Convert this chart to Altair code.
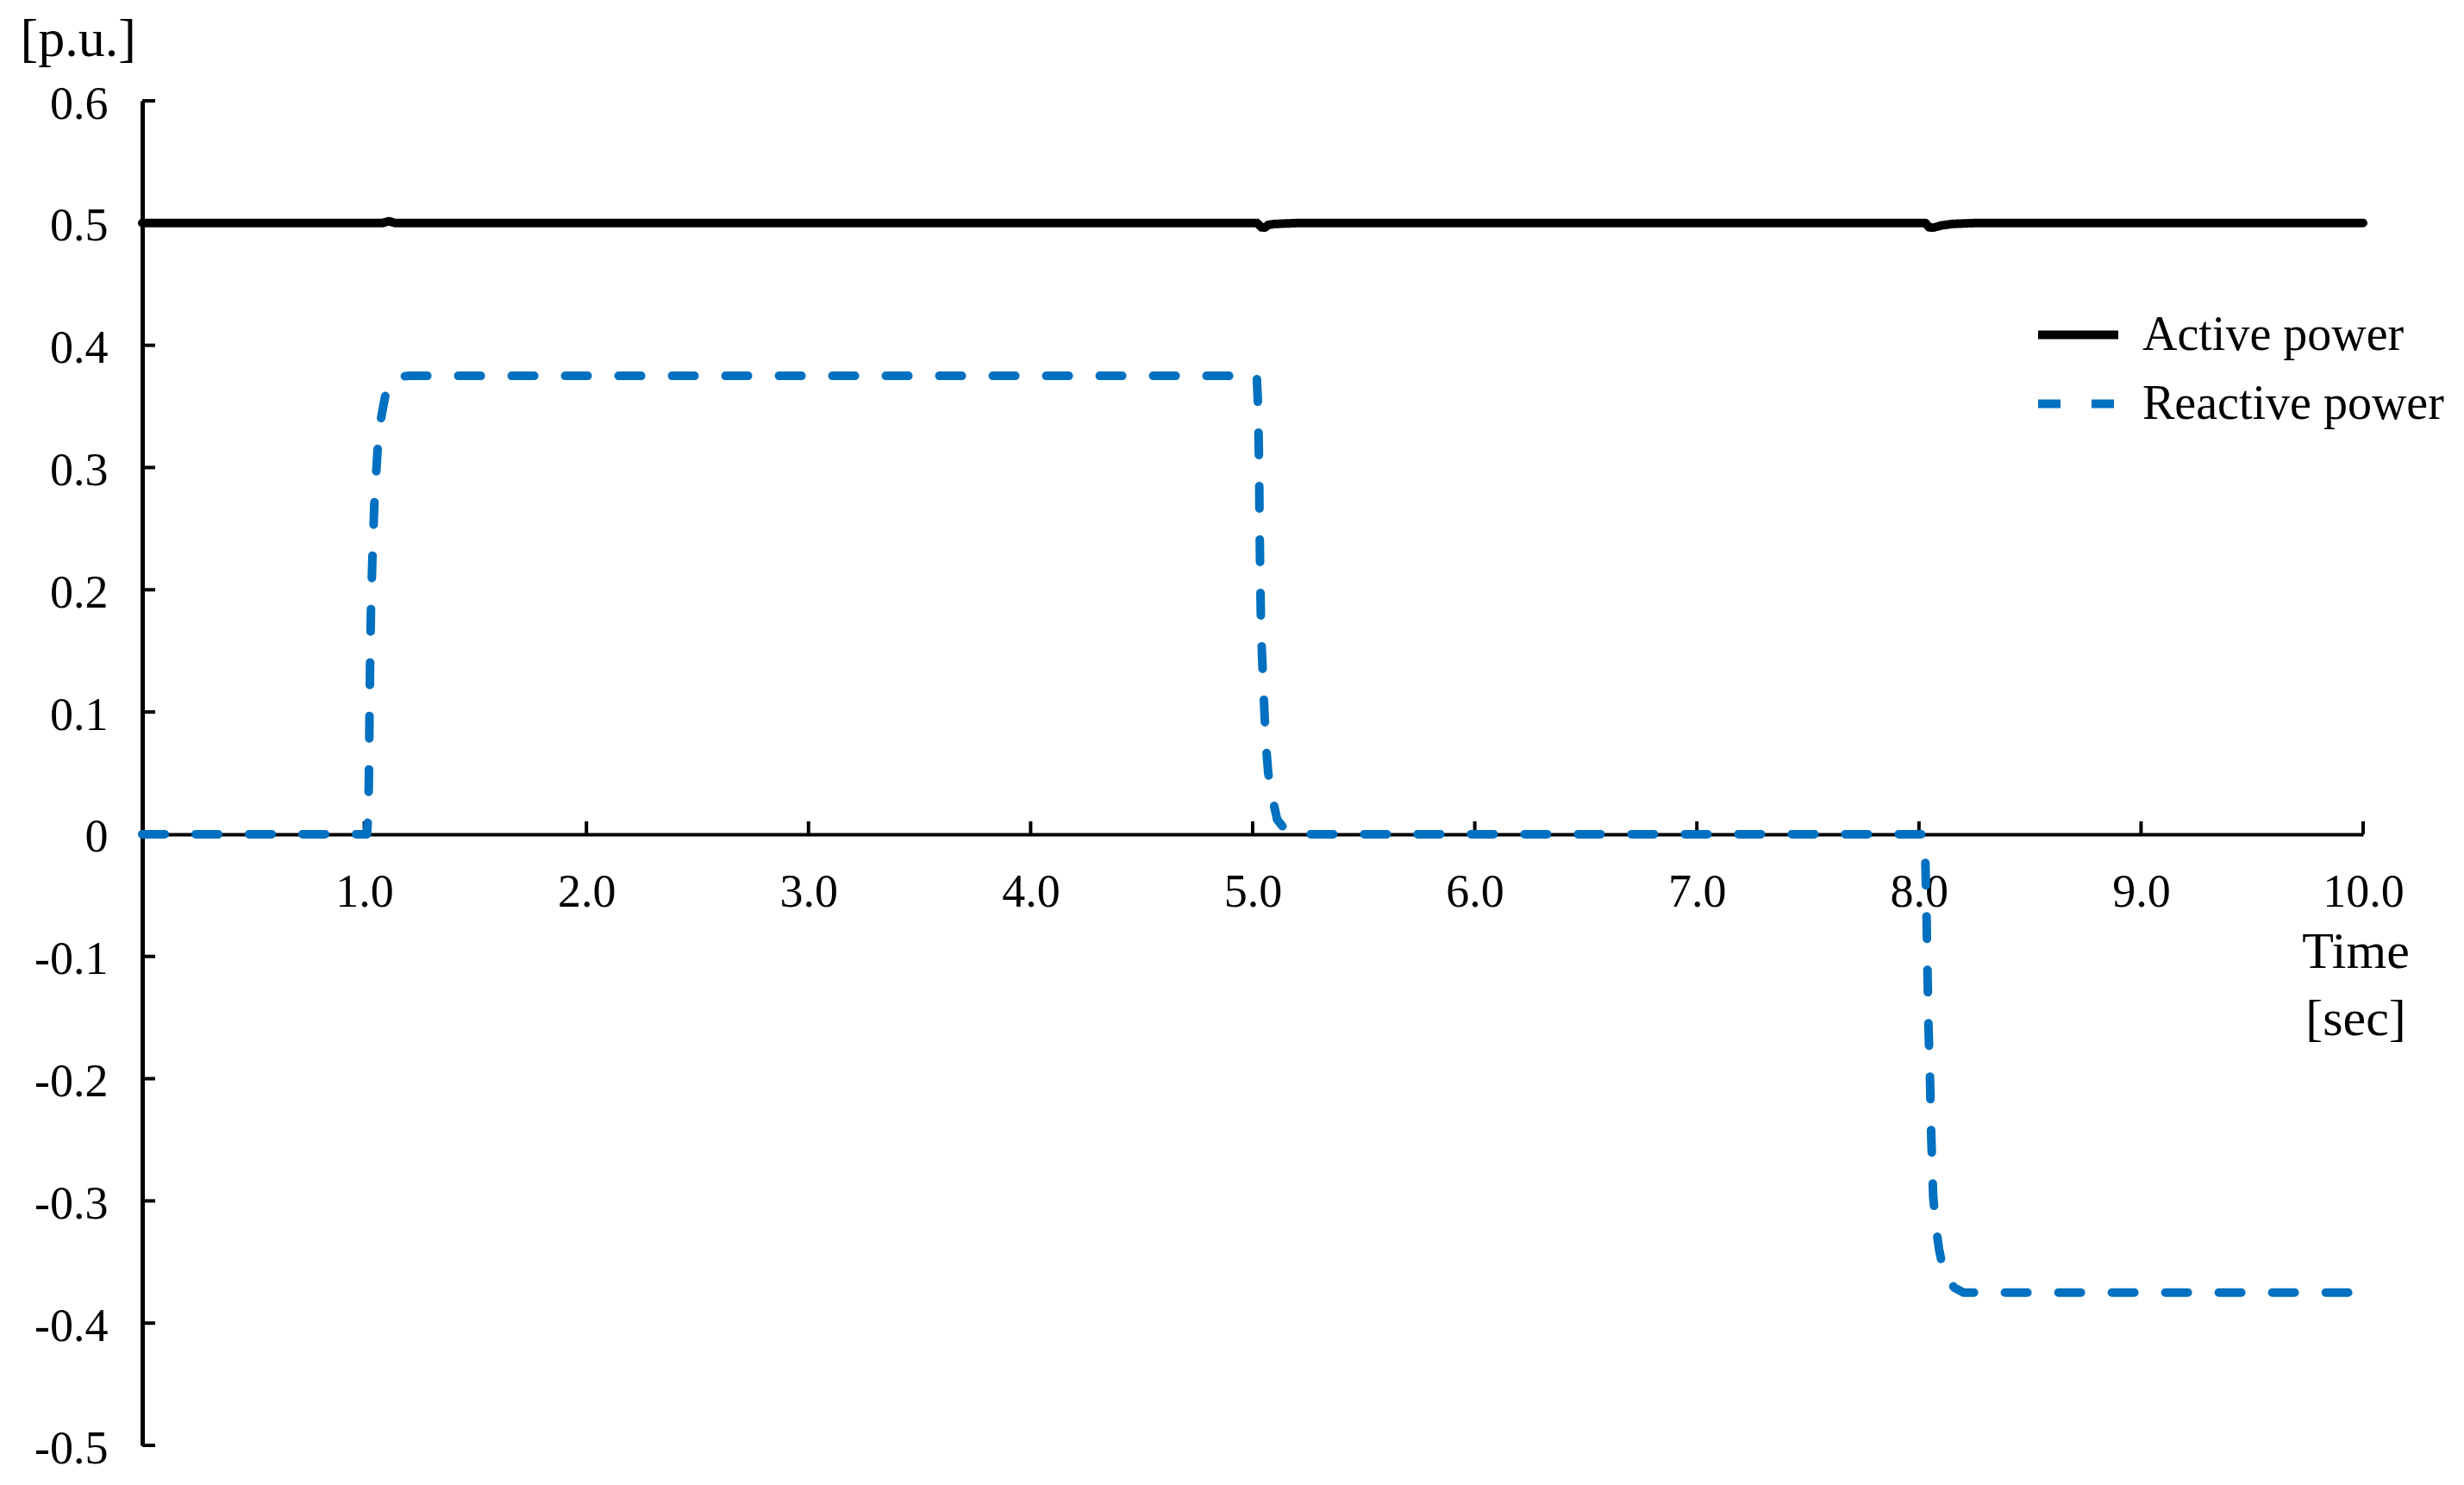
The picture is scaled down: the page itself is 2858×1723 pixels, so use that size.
import json
import altair as alt
import pandas as pd

# ---------------- data ----------------
SERIES = ["Active power", "Reactive power"]
COLORS = ["#000000", "#0070C0"]

T_ACTIVE = [0.0, 1.0, 1.08, 1.11, 1.14, 1.2, 5.0, 5.02, 5.04, 5.055, 5.07, 5.1, 5.2, 5.3,
            8.0, 8.03, 8.045, 8.065, 8.1, 8.15, 8.25, 10.0]
V_ACTIVE = [0.5, 0.5, 0.5, 0.5015, 0.5, 0.5, 0.5, 0.5, 0.4965, 0.4963, 0.4985, 0.4993, 0.5, 0.5,
            0.5, 0.5, 0.4965, 0.4963, 0.498, 0.4993, 0.5, 0.5]

T_REACTIVE = [0.0, 1.0, 1.012, 1.017, 1.0206, 1.0229, 1.0256, 1.0295, 1.0361, 1.045, 1.0594,
              1.075, 1.0944, 1.115, 1.146, 1.2,
              5.0, 5.018, 5.022, 5.025, 5.029, 5.031, 5.034, 5.038, 5.048, 5.059, 5.07, 5.085,
              5.11, 5.15, 5.2,
              8.0, 8.02, 8.026, 8.029, 8.034, 8.038, 8.043, 8.05, 8.055, 8.064, 8.077, 8.09,
              8.108, 8.125, 8.16, 8.2, 8.3, 10.0]
V_REACTIVE = [0.0, 0.0, 0.0, 0.015, 0.046, 0.092, 0.135, 0.181, 0.225, 0.27, 0.314,
              0.34, 0.359, 0.369, 0.374, 0.375,
              0.375, 0.375, 0.36, 0.343, 0.298, 0.254, 0.209, 0.165, 0.12, 0.075, 0.05, 0.033,
              0.012, 0.003, 0.0,
              0.0, 0.0, -0.01, -0.023, -0.065, -0.108, -0.158, -0.202, -0.245, -0.296, -0.322, -0.339,
              -0.355, -0.364, -0.371, -0.375, -0.375, -0.375]

X_TICKS = [1.0, 2.0, 3.0, 4.0, 5.0, 6.0, 7.0, 8.0, 9.0, 10.0]
X_TICK_LABELS = ["1.0", "2.0", "3.0", "4.0", "5.0", "6.0", "7.0", "8.0", "9.0", "10.0"]
Y_TICKS = [0.6, 0.5, 0.4, 0.3, 0.2, 0.1, 0.0, -0.1, -0.2, -0.3, -0.4, -0.5]
Y_TICK_LABELS = ["0.6", "0.5", "0.4", "0.3", "0.2", "0.1", "0", "-0.1", "-0.2", "-0.3", "-0.4", "-0.5"]

# ---------------- layout / style ----------------
FONT = "Liberation Serif"
PLOT_W, PLOT_H = 2576, 1560
X_DOMAIN = [0, 10]
Y_DOMAIN = [-0.5, 0.6]
TICK_PX = 15
px_per_x = PLOT_W / (X_DOMAIN[1] - X_DOMAIN[0])
px_per_y = PLOT_H / (Y_DOMAIN[1] - Y_DOMAIN[0])
X_AXIS_OFFSET = -(0 - Y_DOMAIN[0]) * px_per_y

df = pd.concat([
    pd.DataFrame({"t": T_ACTIVE, "v": V_ACTIVE, "series": SERIES[0]}),
    pd.DataFrame({"t": T_REACTIVE, "v": V_REACTIVE, "series": SERIES[1]}),
], ignore_index=True)

x_scale = alt.Scale(domain=X_DOMAIN, nice=False, zero=False)
y_scale = alt.Scale(domain=Y_DOMAIN, nice=False, zero=False)

x_axis = alt.Axis(
    values=X_TICKS,
    labelExpr=json.dumps(X_TICK_LABELS) + "[round(datum.value) - 1]",
    offset=X_AXIS_OFFSET,
    grid=False, ticks=False, tickSize=0,
    domainColor="black", domainWidth=4,
    labelFont=FONT, labelFontSize=54, labelColor="black",
    labelBaseline="alphabetic", labelPadding=84, labelFlush=False,
    title=["Time", "[sec]"], titleFont=FONT, titleFontSize=60, titleFontWeight="normal",
    titleColor="black", titleAngle=0, titleAlign="center", titleBaseline="alphabetic",
    titleX=2567, titleY=155, titleLineHeight=78,
)
y_axis = alt.Axis(
    values=Y_TICKS,
    labelExpr=json.dumps(Y_TICK_LABELS) + "[round((0.6 - datum.value) * 10)]",
    grid=False, ticks=False, tickSize=0,
    domainColor="black", domainWidth=5,
    labelFont=FONT, labelFontSize=54, labelColor="black",
    labelPadding=40, labelOffset=4, labelFlush=False,
    title="[p.u.]", titleFont=FONT, titleFontSize=62, titleFontWeight="normal",
    titleColor="black", titleAngle=0, titleAlign="left", titleBaseline="alphabetic",
    titleX=-142, titleY=-53,
)

legend = alt.Legend(
    title=None, orient="none", legendX=2194, legendY=220,
    symbolType="stroke", symbolSize=8649, symbolStrokeWidth=10,
    labelFont=FONT, labelFontSize=56, labelColor="black", labelOffset=23, labelLimit=0,
    rowPadding=-19, padding=0, offset=0,
)

xt = pd.DataFrame({"t": X_TICKS})
yt = pd.DataFrame({"v": Y_TICKS})

x_ticks = alt.Chart(xt).mark_rule(color="black", strokeWidth=4).encode(
    x=alt.X("t:Q", scale=x_scale, axis=x_axis),
    y=alt.Y(datum=0, scale=y_scale, axis=y_axis),
    y2=alt.Y2(datum=TICK_PX / px_per_y),
)
y_ticks = alt.Chart(yt).mark_rule(color="black", strokeWidth=4).encode(
    y=alt.Y("v:Q", scale=y_scale, axis=y_axis),
    x=alt.X(datum=0, scale=x_scale, axis=x_axis),
    x2=alt.X2(datum=TICK_PX / px_per_x),
)

lines = alt.Chart(df).mark_line(strokeWidth=10, strokeCap="round", strokeJoin="round").encode(
    x=alt.X("t:Q", scale=x_scale, axis=x_axis),
    y=alt.Y("v:Q", scale=y_scale, axis=y_axis),
    color=alt.Color("series:N", scale=alt.Scale(domain=SERIES, range=COLORS), legend=legend),
    strokeDash=alt.StrokeDash("series:N", scale=alt.Scale(domain=SERIES, range=[[1, 0], [26, 36]]),
                              legend=legend),
)

chart = alt.layer(x_ticks, y_ticks, lines).properties(
    width=PLOT_W, height=PLOT_H,
    autosize=alt.AutoSizeParams(type="none"),
    padding={"left": 157, "top": 109, "right": 109, "bottom": 32},
    background="white",
).configure_view(stroke=None)

chart.save("out.html", embed_options={"renderer": "svg", "actions": False})
